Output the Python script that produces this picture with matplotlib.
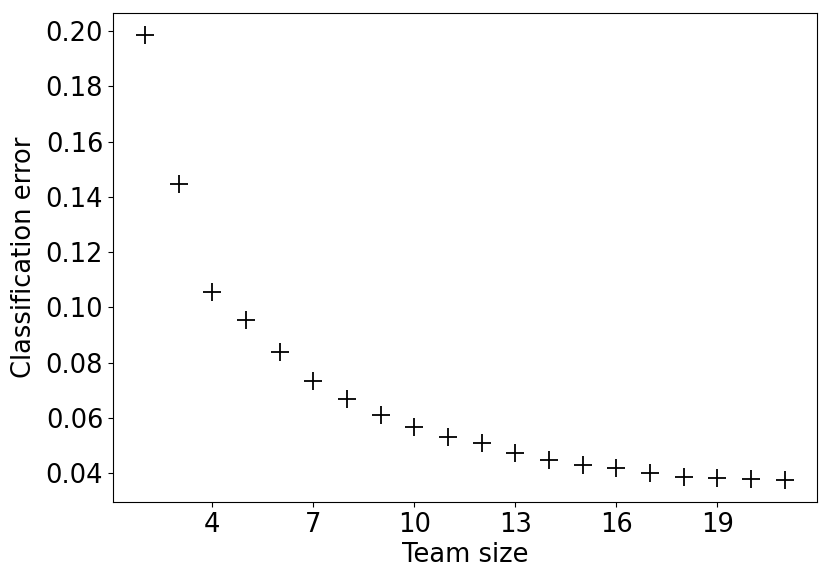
import matplotlib
matplotlib.use('Agg')
import matplotlib.pyplot as plt

# 팀 크기별 분류 오차
team_size = [2, 3, 4, 5, 6, 7, 8, 9, 10, 11, 12, 13, 14, 15, 16, 17, 18, 19, 20, 21]
error = [0.1986, 0.1446, 0.1055, 0.0954, 0.0838, 0.0733, 0.0668, 0.0610, 0.0567, 0.0530,
         0.0509, 0.0472, 0.0447, 0.0429, 0.0418, 0.0400, 0.0386, 0.0382, 0.0378, 0.0375]
x_ticks = [4, 7, 10, 13, 16, 19]

plt.rcParams['font.family'] = ['DejaVu Sans']
plt.rcParams['font.size'] = 18.5

fig = plt.figure(figsize=(8.3, 5.84), dpi=100)
ax = fig.add_subplot(1, 1, 1)
ax.plot(team_size, error, linestyle='none', marker='+', markersize=13,
        markeredgewidth=1.3, color='black')
ax.set_xticks(x_ticks)
ax.set_xlabel('Team size', labelpad=3)
ax.set_ylabel('Classification error', labelpad=6)
fig.subplots_adjust(left=0.136, right=0.984, bottom=0.140, top=0.978)
fig.savefig('out.png', dpi=100)
